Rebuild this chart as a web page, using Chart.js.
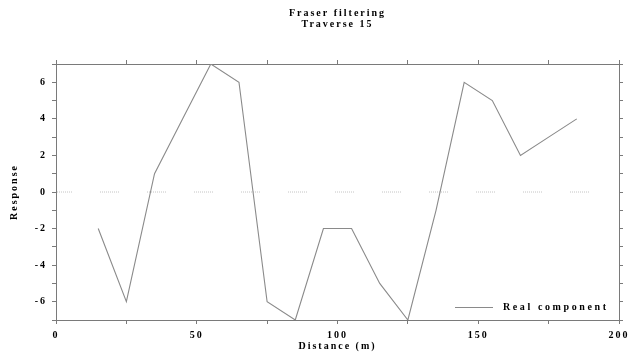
<!DOCTYPE html>
<html>
<head>
<meta charset="utf-8">
<script src="https://cdn.jsdelivr.net/npm/chart.js@4.4.1/dist/chart.umd.min.js"></script>
<style>
html,body{margin:0;padding:0;background:#fff;}
#wrap{width:629px;height:355px;position:relative;}
</style>
</head>
<body>
<div id="wrap"><canvas id="c" width="629" height="355"></canvas></div>
<script>
const titleLines = ["Fraser filtering", "Traverse 15"];
const seriesLabel = "Real component";
const distance = [15, 25, 35, 45, 55, 65, 75, 85, 95, 105, 115, 125, 135, 145, 155, 165, 175, 185];
const response = [-2, -6, 1, 4, 7, 6, -6, -7, -2, -2, -5, -7, -1, 6, 5, 2, 3, 4];
const zeroLineX = [0, 190];
const xTitle = "Distance (m)";
const yTitle = "Response";

const FONT = "'Liberation Serif', 'DejaVu Serif', serif";
const textColor = "#000000";
const axisColor = "#7a7a7a";

const zeroDash = [];
for (let i = 0; i < 10; i++) { zeroDash.push(1, 1); }
zeroDash[zeroDash.length - 1] = 28;

const spacingPlugin = {
  id: 'spacing',
  beforeLayout(chart) { chart.ctx.letterSpacing = '2px'; },
  beforeDraw(chart) { chart.ctx.letterSpacing = '2px'; }
};

const legendPlugin = {
  id: 'customLegend',
  afterDraw(chart) {
    const ctx = chart.ctx;
    const a = chart.chartArea;
    ctx.save();
    const y = a.bottom - 13;
    ctx.strokeStyle = '#8a8a8a';
    ctx.lineWidth = 1;
    ctx.beginPath();
    ctx.moveTo(a.right - 164, y + 0.5);
    ctx.lineTo(a.right - 126, y + 0.5);
    ctx.stroke();
    ctx.letterSpacing = '2.6px';
    ctx.fillStyle = textColor;
    ctx.font = "bold 10px " + FONT;
    ctx.textBaseline = 'middle';
    ctx.textAlign = 'left';
    ctx.fillText(chart.data.datasets[0].label, a.right - 116, y);
    ctx.restore();
  }
};

const tickFont = { family: FONT, size: 10, weight: 'bold' };

new Chart(document.getElementById('c'), {
  type: 'line',
  data: {
    datasets: [
      {
        label: seriesLabel,
        data: distance.map((d, i) => ({x: d, y: response[i]})),
        borderColor: '#8a8a8a',
        borderWidth: 1.1,
        pointRadius: 0,
        tension: 0,
        fill: false
      },
      {
        label: 'zero',
        data: zeroLineX.map(d => ({x: d, y: 0})),
        borderColor: '#c4c4c4',
        borderWidth: 1,
        borderDash: zeroDash,
        borderDashOffset: 3,
        pointRadius: 0,
        fill: false
      }
    ]
  },
  options: {
    responsive: false,
    animation: false,
    layout: { padding: { left: 4, right: 0, top: 0, bottom: 2 } },
    plugins: {
      legend: { display: false },
      tooltip: { enabled: false },
      title: {
        display: true,
        fullSize: false,
        text: titleLines,
        color: textColor,
        font: { family: FONT, size: 10, weight: 'bold', lineHeight: 1.1 },
        padding: { top: 8, bottom: 30 }
      }
    },
    scales: {
      x: {
        type: 'linear', position: 'bottom', min: 0, max: 200,
        border: { display: true, color: axisColor, width: 1 },
        grid: { drawOnChartArea: false, drawTicks: true, tickLength: 4, color: axisColor },
        ticks: {
          stepSize: 25, maxRotation: 0, autoSkip: false, color: textColor, padding: 5,
          font: tickFont,
          callback: v => (v % 50 === 0 ? String(v) : '')
        },
        title: { display: true, text: xTitle, color: textColor, padding: { top: 0, bottom: 1 },
          font: tickFont },
        afterFit: s => { s.height = 33; s.paddingLeft = 0; s.paddingRight = 0; }
      },
      x2: {
        type: 'linear', position: 'top', min: 0, max: 200, display: true,
        border: { display: true, color: axisColor, width: 1 },
        grid: { drawOnChartArea: false, drawTicks: true, tickLength: 4, color: axisColor },
        ticks: { stepSize: 25, display: false },
        afterFit: s => { s.height = 4; s.paddingLeft = 0; s.paddingRight = 0; }
      },
      y: {
        type: 'linear', position: 'left', min: -7, max: 7,
        border: { display: true, color: axisColor, width: 1 },
        grid: { drawOnChartArea: false, drawTicks: true, tickLength: 4, color: axisColor },
        ticks: {
          stepSize: 1, autoSkip: false, color: textColor, padding: 5,
          font: tickFont,
          callback: v => (v % 2 === 0 && Math.abs(v) < 7 ? String(v) : '')
        },
        title: { display: true, text: yTitle, color: textColor, padding: { top: 4, bottom: 0 },
          font: { family: FONT, size: 10, weight: 'bold' } },
        afterFit: s => { s.width = 52; }
      },
      y2: {
        type: 'linear', position: 'right', min: -7, max: 7, display: true,
        border: { display: true, color: axisColor, width: 1 },
        grid: { drawOnChartArea: false, drawTicks: true, tickLength: 4, color: axisColor },
        ticks: { stepSize: 1, display: false },
        afterFit: s => { s.width = 10; }
      }
    }
  },
  plugins: [spacingPlugin, legendPlugin]
});
</script>
</body>
</html>
